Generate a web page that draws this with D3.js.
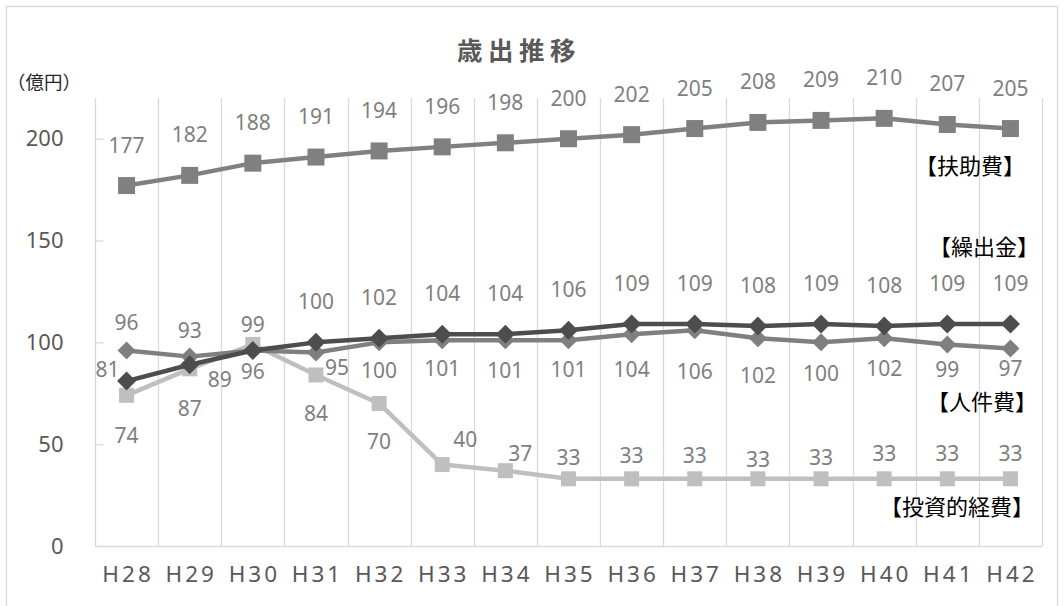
<!DOCTYPE html>
<html lang="ja">
<head>
<meta charset="utf-8">
<script src="https://cdn.jsdelivr.net/npm/d3@7"></script>
<style>
  html, body { margin: 0; padding: 0; background: #fff; }
  svg { display: block; }
</style>
</head>
<body>
<svg id="chart" width="1064" height="606"></svg>
<script>
// Fiscal years (Heisei) and expenditure series, in 億円
const years = ["H28","H29","H30","H31","H32","H33","H34","H35","H36","H37","H38","H39","H40","H41","H42"];
const fujohi   = [177,182,188,191,194,196,198,200,202,205,208,209,210,207,205]; // 扶助費
const kuridashi = [81,89,96,100,102,104,104,106,109,109,108,109,108,109,109];   // 繰出金
const jinkenhi = [96,93,96,95,100,101,101,101,104,106,102,100,102,99,97];       // 人件費
const toshi    = [74,87,99,84,70,40,37,33,33,33,33,33,33,33,33];                 // 投資的経費
const yTicks = [0,50,100,150,200];
const seriesNames = ["【扶助費】","【繰出金】","【人件費】","【投資的経費】"];

// Data-label placement relative to each marker ([dx, dy]; null = label hidden)
const fill = (n, v) => Array.from({length: n}, () => v);
const placeFujohi = fill(15, [0,-41]);
const placeKuridashi = [[-19,-12],[30,14],[0,20]].concat(fill(12,[0,-41]));
const placeJinkenhi = [[0,-29],[0,-27],null,[21,14],[0,28],[0,28],[0,30],[0,29],[0,35],[0,41],[0,37],[0,31],[0,30],[0,25],[0,20]];
const placeToshi = [[0,40],[0,39],[0,-20],[0,38],[0,38],[23,-26],[15,-18],[0,-22],[0,-24],[0,-24],[0,-20],[0,-22],[0,-26],[0,-26],[0,-26]];

const svg = d3.select("#chart");
const plot = {left: 95, right: 1042, top: 98, bottom: 546};

const x = d3.scaleBand().domain(years).range([plot.left, plot.right]).padding(0);
const cx = d => x(d) + x.bandwidth() / 2;
const y = d3.scaleLinear().domain([0, 220]).range([plot.bottom, plot.top]);

const numFont = "'Noto Sans', 'Open Sans', sans-serif";
const jpFont = "'Noto Sans CJK JP', 'Noto Sans', sans-serif";

// Outer chart frame
svg.append("rect")
  .attr("x", 6.5).attr("y", 6.5).attr("width", 1051).attr("height", 640)
  .attr("fill", "none").attr("stroke", "#d9d9d9").attr("stroke-width", 1.3);

// Vertical gridlines at category boundaries
const bounds = years.map(d => x(d)).concat([plot.right]);
svg.append("g").selectAll("line").data(bounds).join("line")
  .attr("x1", d => Math.round(d) + 0.5).attr("x2", d => Math.round(d) + 0.5)
  .attr("y1", plot.top).attr("y2", plot.bottom)
  .attr("stroke", "#d9d9d9").attr("stroke-width", 1.3);

// Category axis line
svg.append("line")
  .attr("x1", plot.left).attr("x2", plot.right)
  .attr("y1", plot.bottom + 0.5).attr("y2", plot.bottom + 0.5)
  .attr("stroke", "#d9d9d9").attr("stroke-width", 1.5);

// Value axis with inward tick marks
const yAxis = d3.axisLeft(y).tickValues(yTicks).tickSize(-8).tickPadding(32);
const ya = svg.append("g").attr("transform", `translate(${plot.left + 0.5},0)`).call(yAxis);
ya.select(".domain").remove();
ya.selectAll(".tick line").attr("stroke", "#d9d9d9").attr("stroke-width", 1.3);
ya.selectAll(".tick text")
  .attr("font-family", numFont).attr("font-size", 22).attr("fill", "#595959");

// Category axis labels
const xAxis = d3.axisBottom(x).tickSize(0).tickPadding(20);
const xa = svg.append("g").attr("transform", `translate(0,${plot.bottom})`).call(xAxis);
xa.select(".domain").remove();
xa.selectAll(".tick text")
  .attr("font-family", numFont).attr("font-size", 22.5).attr("fill", "#595959")
  .attr("letter-spacing", "3px").attr("dx", "1.5px");

// Title and unit
svg.append("text").text("歳出推移")
  .attr("x", 519).attr("y", 48).attr("text-anchor", "middle").attr("dominant-baseline", "central")
  .attr("font-family", jpFont).attr("font-weight", "bold").attr("font-size", 25.5)
  .attr("letter-spacing", "5.5px").attr("fill", "#595959");
svg.append("text").text("（億円）")
  .attr("x", 7).attr("y", 81).attr("dominant-baseline", "central")
  .attr("font-family", jpFont).attr("font-size", 18.5).attr("fill", "#262626");

const diamond = r => `M0,${-r}L${r},0L0,${r}L${-r},0Z`;
const square = s => `M${-s/2},${-s/2}h${s}v${s}h${-s}Z`;

const series = [
  {values: toshi,     color: "#bfbfbf", marker: square(15),  place: placeToshi},
  {values: jinkenhi,  color: "#7f7f7f", marker: diamond(9),  place: placeJinkenhi},
  {values: fujohi,    color: "#808080", marker: square(17),  place: placeFujohi},
  {values: kuridashi, color: "#4d4d4d", marker: diamond(9.5), place: placeKuridashi}
];

const line = d3.line().x((d, i) => cx(years[i])).y(d => y(d));

const lineLayer = svg.append("g");
series.forEach(s => {
  const g = lineLayer.append("g");
  g.append("path").attr("d", line(s.values))
    .attr("fill", "none").attr("stroke", s.color).attr("stroke-width", 4.5)
    .attr("stroke-linejoin", "round");
  g.selectAll("path.mk").data(s.values).join("path").attr("class", "mk")
    .attr("d", s.marker)
    .attr("transform", (d, i) => `translate(${cx(years[i])},${y(d)})`)
    .attr("fill", s.color);
});

// Data labels
const labelLayer = svg.append("g");
series.forEach(s => {
  const pts = s.values.map((v, i) => ({v, i, p: s.place[i]})).filter(d => d.p);
  labelLayer.selectAll(null).data(pts).join("text")
    .text(d => d.v)
    .attr("x", d => cx(years[d.i]) + d.p[0])
    .attr("y", d => y(d.v) + d.p[1])
    .attr("text-anchor", "middle").attr("dominant-baseline", "central")
    .attr("font-family", numFont).attr("font-size", 21).attr("fill", "#7f7f7f");
});

// Series names beside the lines
const namePos = [[915,164],[929,245],[927,400],[880,505]];
svg.append("g").selectAll("text").data(seriesNames).join("text")
  .text(d => d)
  .attr("x", (d, i) => namePos[i][0]).attr("y", (d, i) => namePos[i][1])
  .attr("dominant-baseline", "central")
  .attr("font-family", jpFont).attr("font-size", 22).attr("fill", "#000");
</script>
</body>
</html>
